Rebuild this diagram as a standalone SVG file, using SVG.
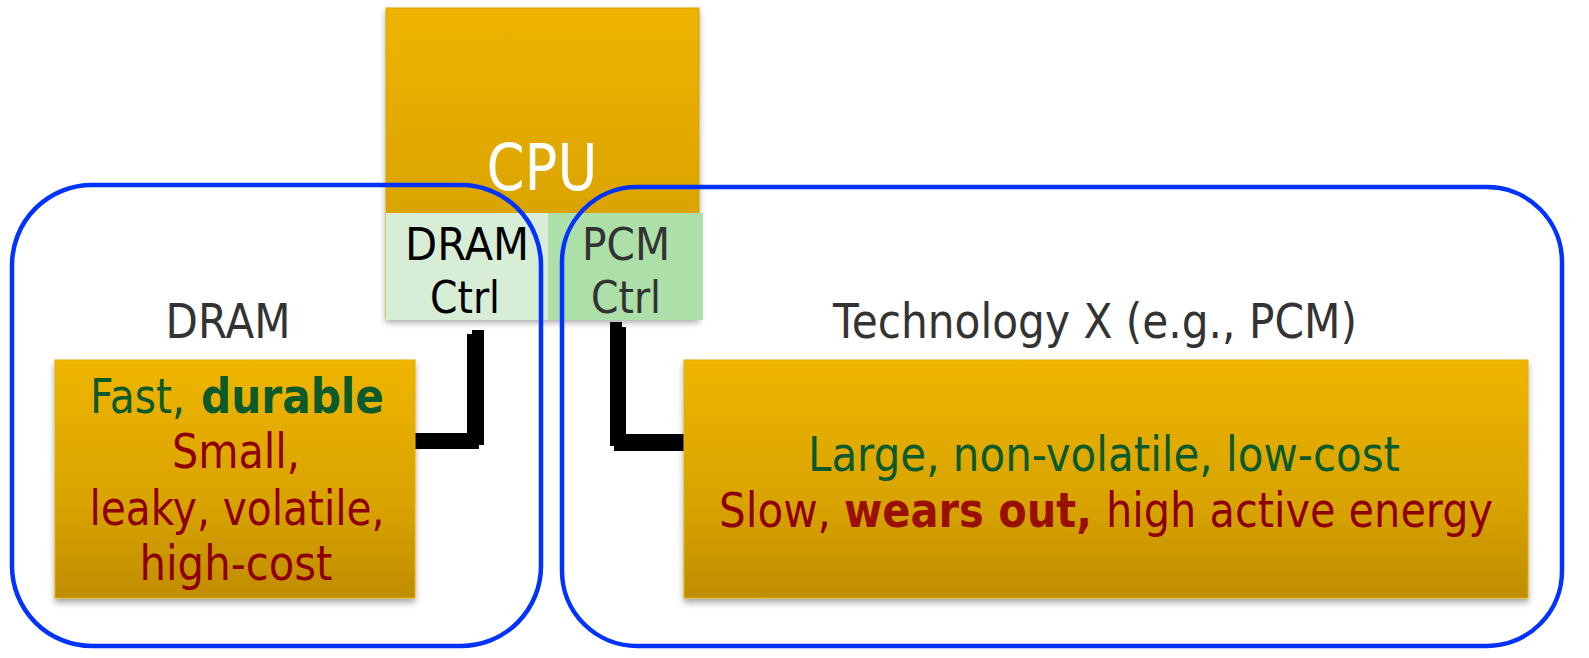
<svg xmlns="http://www.w3.org/2000/svg" width="1589" height="658" viewBox="0 0 1589 658">
<defs>
<linearGradient id="gold" x1="0" y1="0" x2="0" y2="1">
<stop offset="0" stop-color="#efb500"/>
<stop offset="0.6" stop-color="#d9a300"/>
<stop offset="1" stop-color="#c08d00"/>
</linearGradient>
<linearGradient id="cpuGold" x1="0" y1="0" x2="0" y2="1">
<stop offset="0" stop-color="#efb400"/>
<stop offset="1" stop-color="#d09c00"/>
</linearGradient>
<filter id="shadow" x="-10%" y="-10%" width="120%" height="130%">
<feDropShadow dx="0" dy="4" stdDeviation="3" flood-color="#000" flood-opacity="0.35"/>
</filter>
<style>
text{font-family:"DejaVu Sans","Liberation Sans",sans-serif;text-anchor:middle}
.st{text-anchor:start}
.lbl{fill:#333;font-size:48px}
.ctl{font-size:45px}
.grn{fill:#0a5a2c}
.red{fill:#8e0000}
.b{font-weight:bold}
.box{font-size:48px}
.blue{fill:none;stroke:#0033ff;stroke-width:4.5}
.wire{fill:none;stroke:#000;stroke-width:12}
</style>
</defs>

<g id="cpu">
<rect x="386" y="8" width="313" height="310" fill="url(#cpuGold)" stroke="#d4a400" stroke-width="1" filter="url(#shadow)"/>
</g>
<g id="dram-ctrl">
<rect x="386" y="213" width="162" height="107" fill="#d8edd5"/>
<text class="ctl" x="467" y="260" fill="#000" textLength="124" lengthAdjust="spacingAndGlyphs">DRAM</text>
<text class="ctl" x="465" y="313" fill="#000" textLength="70" lengthAdjust="spacingAndGlyphs">Ctrl</text>
</g>
<g id="pcm-ctrl">
<rect x="548" y="213" width="155" height="107" fill="#addfa9"/>
<text class="ctl" x="626" y="260" fill="#333" textLength="88" lengthAdjust="spacingAndGlyphs">PCM</text>
<text class="ctl" x="626" y="313" fill="#333" textLength="70" lengthAdjust="spacingAndGlyphs">Ctrl</text>
</g>

<g id="dram-group">
<rect class="blue" x="12" y="185" width="529" height="461" rx="80" ry="80"/>
<text class="lbl" x="228" y="338" textLength="125" lengthAdjust="spacingAndGlyphs">DRAM</text>
</g>
<g id="techx-group">
<rect class="blue" x="562" y="187" width="1000" height="459" rx="75" ry="75"/>
<text class="lbl" x="1095" y="338" textLength="524" lengthAdjust="spacingAndGlyphs">Technology X (e.g., PCM)</text>
</g>

<g id="cpu-label">
<text x="542" y="190" fill="#fff" font-size="64" textLength="111" lengthAdjust="spacingAndGlyphs">CPU</text>
</g>

<g id="connectors">
<path class="wire" d="M415 439 H478 V330" transform="translate(-5,4)"/>
<path class="wire" d="M415 439 H478 V330"/>
<path class="wire" d="M685 440 H616 V322" transform="translate(4,5)"/>
<path class="wire" d="M685 440 H616 V322"/>
</g>

<g id="dram-box">
<rect x="55" y="360" width="360" height="238" fill="url(#gold)" stroke="#e0b000" stroke-width="1" filter="url(#shadow)"/>
<text class="box grn st" x="90" y="413" textLength="95" lengthAdjust="spacingAndGlyphs">Fast,</text>
<text class="box grn st b" x="201" y="413" textLength="183" lengthAdjust="spacingAndGlyphs">durable</text>
<text class="box red" x="236" y="468" textLength="128" lengthAdjust="spacingAndGlyphs">Small,</text>
<text class="box red" x="237" y="525" textLength="295" lengthAdjust="spacingAndGlyphs">leaky, volatile,</text>
<text class="box red" x="236" y="580" textLength="193" lengthAdjust="spacingAndGlyphs">high-cost</text>
</g>

<g id="pcm-box">
<rect x="684" y="360" width="844" height="238" fill="url(#gold)" stroke="#e0b000" stroke-width="1" filter="url(#shadow)"/>
<text class="box grn" x="1104" y="471" textLength="592" lengthAdjust="spacingAndGlyphs">Large, non-volatile, low-cost</text>
<text class="box red st" x="719" y="527" textLength="112" lengthAdjust="spacingAndGlyphs">Slow,</text>
<text class="box st b" x="844" y="527" fill="#9a1000" textLength="248" lengthAdjust="spacingAndGlyphs">wears out,</text>
<text class="box red st" x="1106" y="527" textLength="387" lengthAdjust="spacingAndGlyphs">high active energy</text>
</g>
</svg>
